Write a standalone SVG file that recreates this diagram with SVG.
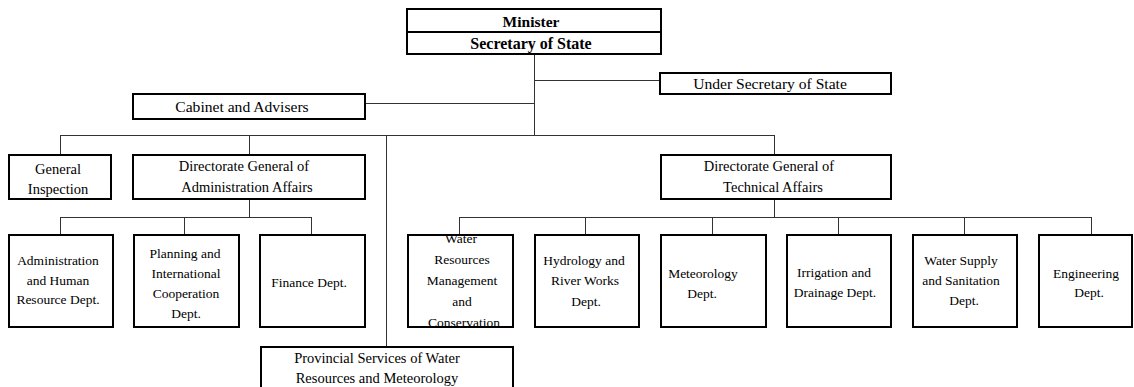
<svg xmlns="http://www.w3.org/2000/svg" width="1134" height="387" viewBox="0 0 1134 387">
  <style>
    .box { fill: #fff; stroke: #000; stroke-width: 2; }
    .conn { stroke: #333; stroke-width: 1; fill: none; }
    text { font-family: "Liberation Serif", "Times New Roman", Times, "DejaVu Serif", serif; font-size: 13.5px; fill: #000; text-anchor: middle; }
    .hdr { font-size: 15.5px; font-weight: bold; }
    .big { font-size: 15.6px; }
    .mid { font-size: 14.5px; }
  </style>
  <rect width="1134" height="387" fill="#fff"/>

  <!-- connectors -->
  <g id="connectors" class="conn">
    <path d="M534.5,54 V135"/>
    <path d="M534.5,80.5 H660"/>
    <path d="M365,103.5 H534.5"/>
    <path d="M60.5,135.5 H774.5"/>
    <path d="M60.5,135 V155"/>
    <path d="M249.5,135 V155"/>
    <path d="M386.5,135 V347"/>
    <path d="M774.5,135 V155"/>
    <path d="M249.5,199 V217.5"/>
    <path d="M60.5,217.5 H311.5"/>
    <path d="M60.5,217 V235"/>
    <path d="M184.5,217 V235"/>
    <path d="M311.5,217 V235"/>
    <path d="M774.5,199 V217.5"/>
    <path d="M459.5,217.5 H1091.5"/>
    <path d="M459.5,217 V235"/>
    <path d="M585.5,217 V235"/>
    <path d="M712.5,217 V235"/>
    <path d="M838.5,217 V235"/>
    <path d="M964.5,217 V235"/>
    <path d="M1091.5,217 V235"/>
  </g>

  <g id="minister">
    <rect class="box" x="407" y="9" width="254" height="45"/>
    <line x1="407" y1="32" x2="661" y2="32" stroke="#000" stroke-width="2"/>
    <text class="hdr" x="531" y="27">Minister</text>
    <text class="hdr" x="531" y="49" style="font-size:16px">Secretary of State</text>
  </g>

  <g id="under-secretary">
    <rect class="box" x="660" y="73" width="231" height="21"/>
    <text class="big" x="770" y="89">Under Secretary of State</text>
  </g>

  <g id="cabinet">
    <rect class="box" x="133" y="94" width="232" height="25"/>
    <text class="big" x="242" y="112">Cabinet and Advisers</text>
  </g>

  <g id="general-inspection">
    <rect class="box" x="9" y="155" width="102" height="44"/>
    <text class="mid" x="58" y="174">General</text>
    <text class="mid" x="58" y="194">Inspection</text>
  </g>

  <g id="dg-administration">
    <rect class="box" x="133" y="155" width="232" height="44"/>
    <text class="mid" x="244" y="171">Directorate General of</text>
    <text class="mid" x="247" y="192">Administration Affairs</text>
  </g>

  <g id="dg-technical">
    <rect class="box" x="661" y="155" width="230" height="44"/>
    <text class="mid" x="769" y="171">Directorate General of</text>
    <text class="mid" x="773" y="192">Technical Affairs</text>
  </g>

  <g id="admin-hr">
    <rect class="box" x="9" y="235" width="104" height="92"/>
    <text x="58" y="265">Administration</text>
    <text x="58" y="285">and Human</text>
    <text x="58" y="304">Resource Dept.</text>
  </g>

  <g id="planning">
    <rect class="box" x="134" y="235" width="105" height="92"/>
    <text x="185" y="258">Planning and</text>
    <text x="186" y="278">International</text>
    <text x="186" y="298">Cooperation</text>
    <text x="186" y="318">Dept.</text>
  </g>

  <g id="finance">
    <rect class="box" x="260" y="235" width="105" height="92"/>
    <text x="309" y="287">Finance Dept.</text>
  </g>

  <g id="water-resources">
    <rect class="box" x="408" y="235" width="105" height="92"/>
    <text x="461" y="243">Water</text>
    <text x="462" y="264">Resources</text>
    <text x="462" y="285">Management</text>
    <text x="462" y="306">and</text>
    <text x="464" y="327">Conservation</text>
  </g>

  <g id="hydrology">
    <rect class="box" x="535" y="235" width="104" height="92"/>
    <text x="584" y="265">Hydrology and</text>
    <text x="585" y="285">River Works</text>
    <text x="586" y="306">Dept.</text>
  </g>

  <g id="meteorology">
    <rect class="box" x="661" y="235" width="105" height="92"/>
    <text x="703" y="278">Meteorology</text>
    <text x="702" y="298">Dept.</text>
  </g>

  <g id="irrigation">
    <rect class="box" x="787" y="235" width="104" height="92"/>
    <text x="834" y="277">Irrigation and</text>
    <text x="835" y="297">Drainage Dept.</text>
  </g>

  <g id="water-supply">
    <rect class="box" x="913" y="235" width="104" height="92"/>
    <text x="961" y="265">Water Supply</text>
    <text x="961" y="285">and Sanitation</text>
    <text x="964" y="305">Dept.</text>
  </g>

  <g id="engineering">
    <rect class="box" x="1039" y="235" width="93" height="92"/>
    <text x="1086" y="278">Engineering</text>
    <text x="1089" y="297">Dept.</text>
  </g>

  <g id="provincial">
    <rect class="box" x="261" y="347" width="252" height="46"/>
    <text class="mid" x="377" y="363">Provincial Services of Water</text>
    <text class="mid" x="377" y="383">Resources and Meteorology</text>
  </g>
</svg>
